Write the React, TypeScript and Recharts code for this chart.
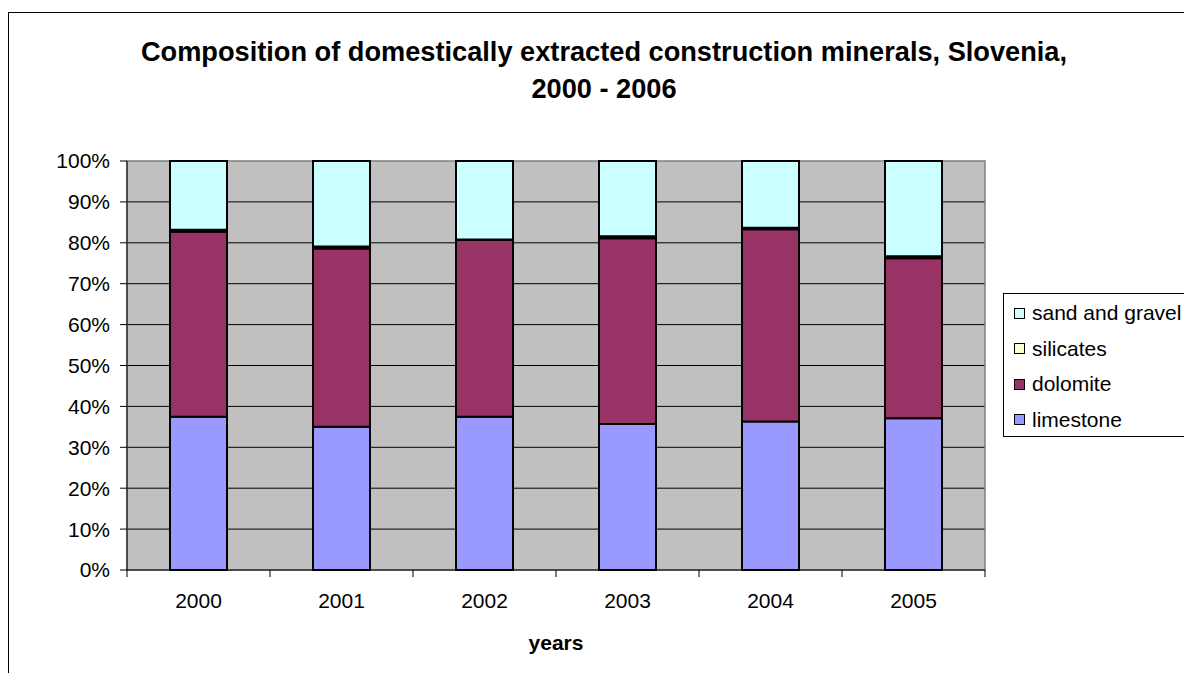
import { BarChart, Bar, XAxis, YAxis, CartesianGrid, Legend, ReferenceArea, Label } from "recharts";

const years = ["2000", "2001", "2002", "2003", "2004", "2005"];
const limestone = [37.5, 35.0, 37.5, 35.7, 36.3, 37.1];
const dolomite = [45.2, 43.6, 43.2, 45.4, 47.0, 39.1];
const silicates = [0.5, 0.5, 0.1, 0.5, 0.4, 0.5];
const sandGravel = [16.8, 20.9, 19.2, 18.4, 16.3, 23.3];
const yTicks = [0, 10, 20, 30, 40, 50, 60, 70, 80, 90, 100];
const legendOrder = ["sand and gravel", "silicates", "dolomite", "limestone"];

const data = years.map((year, i) => ({
  year,
  limestone: limestone[i],
  dolomite: dolomite[i],
  silicates: silicates[i],
  sand: sandGravel[i],
}));

const FONT = "Arial, 'Liberation Sans', sans-serif";
const BAND = 858 / years.length;

const XTick = ({ x, y, payload, index }: any) => {
  const half = payload?.offset || BAND / 2;
  return (
    <g>
      <line x1={x - half} x2={x - half} y1={y} y2={y + 7} stroke="#000" />
      {index === years.length - 1 && (
        <line x1={x + half} x2={x + half} y1={y} y2={y + 7} stroke="#000" />
      )}
      <text x={x} y={y + 38} textAnchor="middle" fontSize={21} fontFamily={FONT} fill="#000">
        {payload.value}
      </text>
    </g>
  );
};

const renderLegend = (props: any) => {
  const items = [...(props.payload || [])].sort(
    (a: any, b: any) => legendOrder.indexOf(a.value) - legendOrder.indexOf(b.value)
  );
  return (
    <div
      style={{
        border: "1px solid #000",
        width: 200,
        height: 142,
        background: "#fff",
        position: "relative",
        fontFamily: FONT,
        fontSize: 21,
      }}
    >
      {items.map((it: any, i: number) => (
        <div
          key={it.value}
          style={{ position: "absolute", left: 10, top: 19 + i * 35.5 - 14, height: 28, display: "flex", alignItems: "center", whiteSpace: "nowrap" }}
        >
          <span style={{ width: 9, height: 9, border: "1.5px solid #000", background: it.color, display: "inline-block", marginRight: 7 }} />
          <span>{it.value}</span>
        </div>
      ))}
    </div>
  );
};

export default function App() {
  return (
    <div style={{ position: "fixed", left: 0, top: 0, width: 1184, height: 673, overflow: "hidden", background: "#fff" }}>
      <div style={{ position: "absolute", left: 8, top: 12, width: 1230, height: 700, border: "1px solid #000" }}>
        <div
          style={{
            position: "absolute",
            left: 0,
            top: 20,
            width: 1190,
            textAlign: "center",
            fontFamily: FONT,
            fontWeight: "bold",
            fontSize: 27.2,
            lineHeight: "37px",
            color: "#000",
          }}
        >
          Composition of domestically extracted construction minerals, Slovenia,
          <br />
          2000 - 2006
        </div>
        <BarChart
          width={1210}
          height={680}
          data={data}
          margin={{ top: 148, right: 234, left: 58, bottom: 43 }}
          barSize={57}
        >
          <CartesianGrid vertical={false} horizontalValues={[10, 20, 30, 40, 50, 60, 70, 80, 90]} stroke="#000" fill="#C0C0C0" />
          <ReferenceArea y1={0} y2={100} fill="none" stroke="#808080" strokeWidth={1.5} />
          <XAxis
            dataKey="year"
            height={80}
            tickLine={false}
            tickSize={0}
            tickMargin={0}
            axisLine={{ stroke: "#000" }}
            tick={<XTick />}
            interval={0}
          >
            <Label
              value="years"
              position="insideBottom"
              offset={0}
              style={{ fontFamily: FONT, fontSize: 21, fontWeight: "bold", fill: "#000" }}
            />
          </XAxis>
          <YAxis
            width={60}
            domain={[0, 100]}
            ticks={yTicks}
            interval={0}
            tickFormatter={(v: number) => `${v}%`}
            tickSize={7}
            tickMargin={10}
            axisLine={{ stroke: "#000" }}
            tickLine={{ stroke: "#000" }}
            tick={{ fontFamily: FONT, fontSize: 21, fill: "#000" }}
          />
          <Legend
            layout="vertical"
            align="center"
            verticalAlign="middle"
            content={renderLegend}
            wrapperStyle={{ position: "absolute", left: 994, top: 280, width: 202, height: 144 }}
          />
          <Bar dataKey="limestone" name="limestone" stackId="a" fill="#9999FF" stroke="#000" strokeWidth={2} isAnimationActive={false} />
          <Bar dataKey="dolomite" name="dolomite" stackId="a" fill="#993366" stroke="#000" strokeWidth={2} isAnimationActive={false} />
          <Bar dataKey="silicates" name="silicates" stackId="a" fill="#FFFFCC" stroke="#000" strokeWidth={2} isAnimationActive={false} />
          <Bar dataKey="sand" name="sand and gravel" stackId="a" fill="#CCFFFF" stroke="#000" strokeWidth={2} isAnimationActive={false} />
        </BarChart>
      </div>
    </div>
  );
}
